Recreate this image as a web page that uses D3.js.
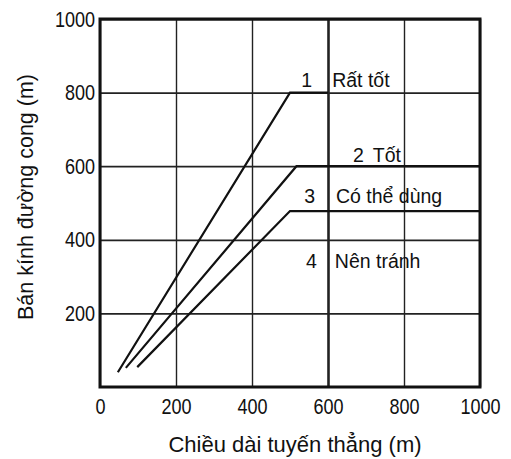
<!DOCTYPE html>
<head>
  <meta charset="utf-8">
  <script src="https://d3js.org/d3.v7.min.js"></script>
  <style>
    body { margin:0; background:#fff; }
    text { font-family: "Liberation Sans", Arial, sans-serif; fill:#111; }
    .axis text { font-size:22px; }
    .axis .domain { display:none; }
    .axis line { stroke:#222; stroke-width:1.4; }
    .y.axis line { stroke-width:1.8; }
    .label { font-size:19.5px; }
    .title { font-size:22px; }
    .curve { fill:none; stroke:#111; stroke-width:2.2; }
    .frame { fill:none; stroke:#111; stroke-width:3; }
  </style>
</head>

<body>
  <script>
    var xTicks = [0, 200, 400, 600, 800, 1000];
    var yTicks = [200, 400, 600, 800, 1000];

    // (length, radius) points
    var curve1 = [[47, 40], [500, 800], [600, 800]];
    var curve2 = [[68, 52], [517, 600], [1000, 600]];
    var curve3 = [[98, 54], [500, 478], [1000, 478]];

    var classNames = ["1", "2", "3", "4"];
    var classLabels = ["Rất tốt", "Tốt", "Có thể dùng", "Nên tránh"];

    var margin = {top: 19, right: 31, bottom: 72, left: 100};
    var width = 511 - margin.left - margin.right,
        height = 459 - margin.top - margin.bottom;

    var root = d3.select("body").append("svg")
        .attr("width", 511)
        .attr("height", 459);
    var svg = root.append("g")
        .attr("transform", "translate(" + margin.left + "," + margin.top + ")");

    var x = d3.scaleLinear().domain([0, 1000]).range([0, width]);
    var y = d3.scaleLinear().domain([0, 1000]).range([height, 0]);

    var xAxis = d3.axisBottom(x).tickValues(xTicks).tickFormat(d3.format("d"))
        .tickSize(-height).tickPadding(11);
    var yAxis = d3.axisLeft(y).tickValues(yTicks).tickFormat(d3.format("d"))
        .tickSize(-width).tickPadding(5);

    var gx = svg.append("g")
        .attr("class", "x axis")
        .attr("transform", "translate(0," + height + ")")
        .call(xAxis);
    gx.selectAll(".tick line")
        .filter(function(d) { return d === 600; })
        .style("stroke-width", 2.6);

    var gy = svg.append("g")
        .attr("class", "y axis")
        .call(yAxis);

    // the digits in the picture are a narrow face
    gx.selectAll(".tick text").attr("transform", "scale(0.82,1)");
    gy.selectAll(".tick text").attr("transform", "scale(0.82,1)").attr("x", -6);

    svg.append("rect")
        .attr("class", "frame")
        .attr("width", width)
        .attr("height", height);

    var line = d3.line()
        .x(function(d) { return x(d[0]); })
        .y(function(d) { return y(d[1]); });

    svg.selectAll(".curve")
        .data([curve1, curve2, curve3])
      .enter().append("path")
        .attr("class", "curve")
        .attr("d", line);

    // class labels, number left of the 600 line, text right of it
    var spots = [
      {nx: 558, tx: 611, y: 815, anchor: "end"},
      {nx: 666, tx: 718, y: 611, anchor: "start"},
      {nx: 566, tx: 621, y: 500, anchor: "end"},
      {nx: 571, tx: 618, y: 323, anchor: "end"}
    ];

    spots.forEach(function(s, i) {
      svg.append("text")
          .attr("class", "label")
          .attr("x", x(s.nx))
          .attr("y", y(s.y))
          .attr("text-anchor", s.anchor)
          .text(classNames[i]);
      svg.append("text")
          .attr("class", "label")
          .attr("x", x(s.tx))
          .attr("y", y(s.y))
          .text(classLabels[i]);
    });

    svg.append("text")
        .attr("class", "title")
        .attr("x", 195)
        .attr("y", height + 65)
        .attr("text-anchor", "middle")
        .text("Chiều dài tuyến thẳng (m)");

    svg.append("text")
        .attr("class", "title")
        .attr("transform", "translate(-67," + (height / 2 - 6) + ") rotate(-90)")
        .attr("text-anchor", "middle")
        .style("font-size", "21.5px")
        .text("Bán kính đường cong (m)");
  </script>
</body>
